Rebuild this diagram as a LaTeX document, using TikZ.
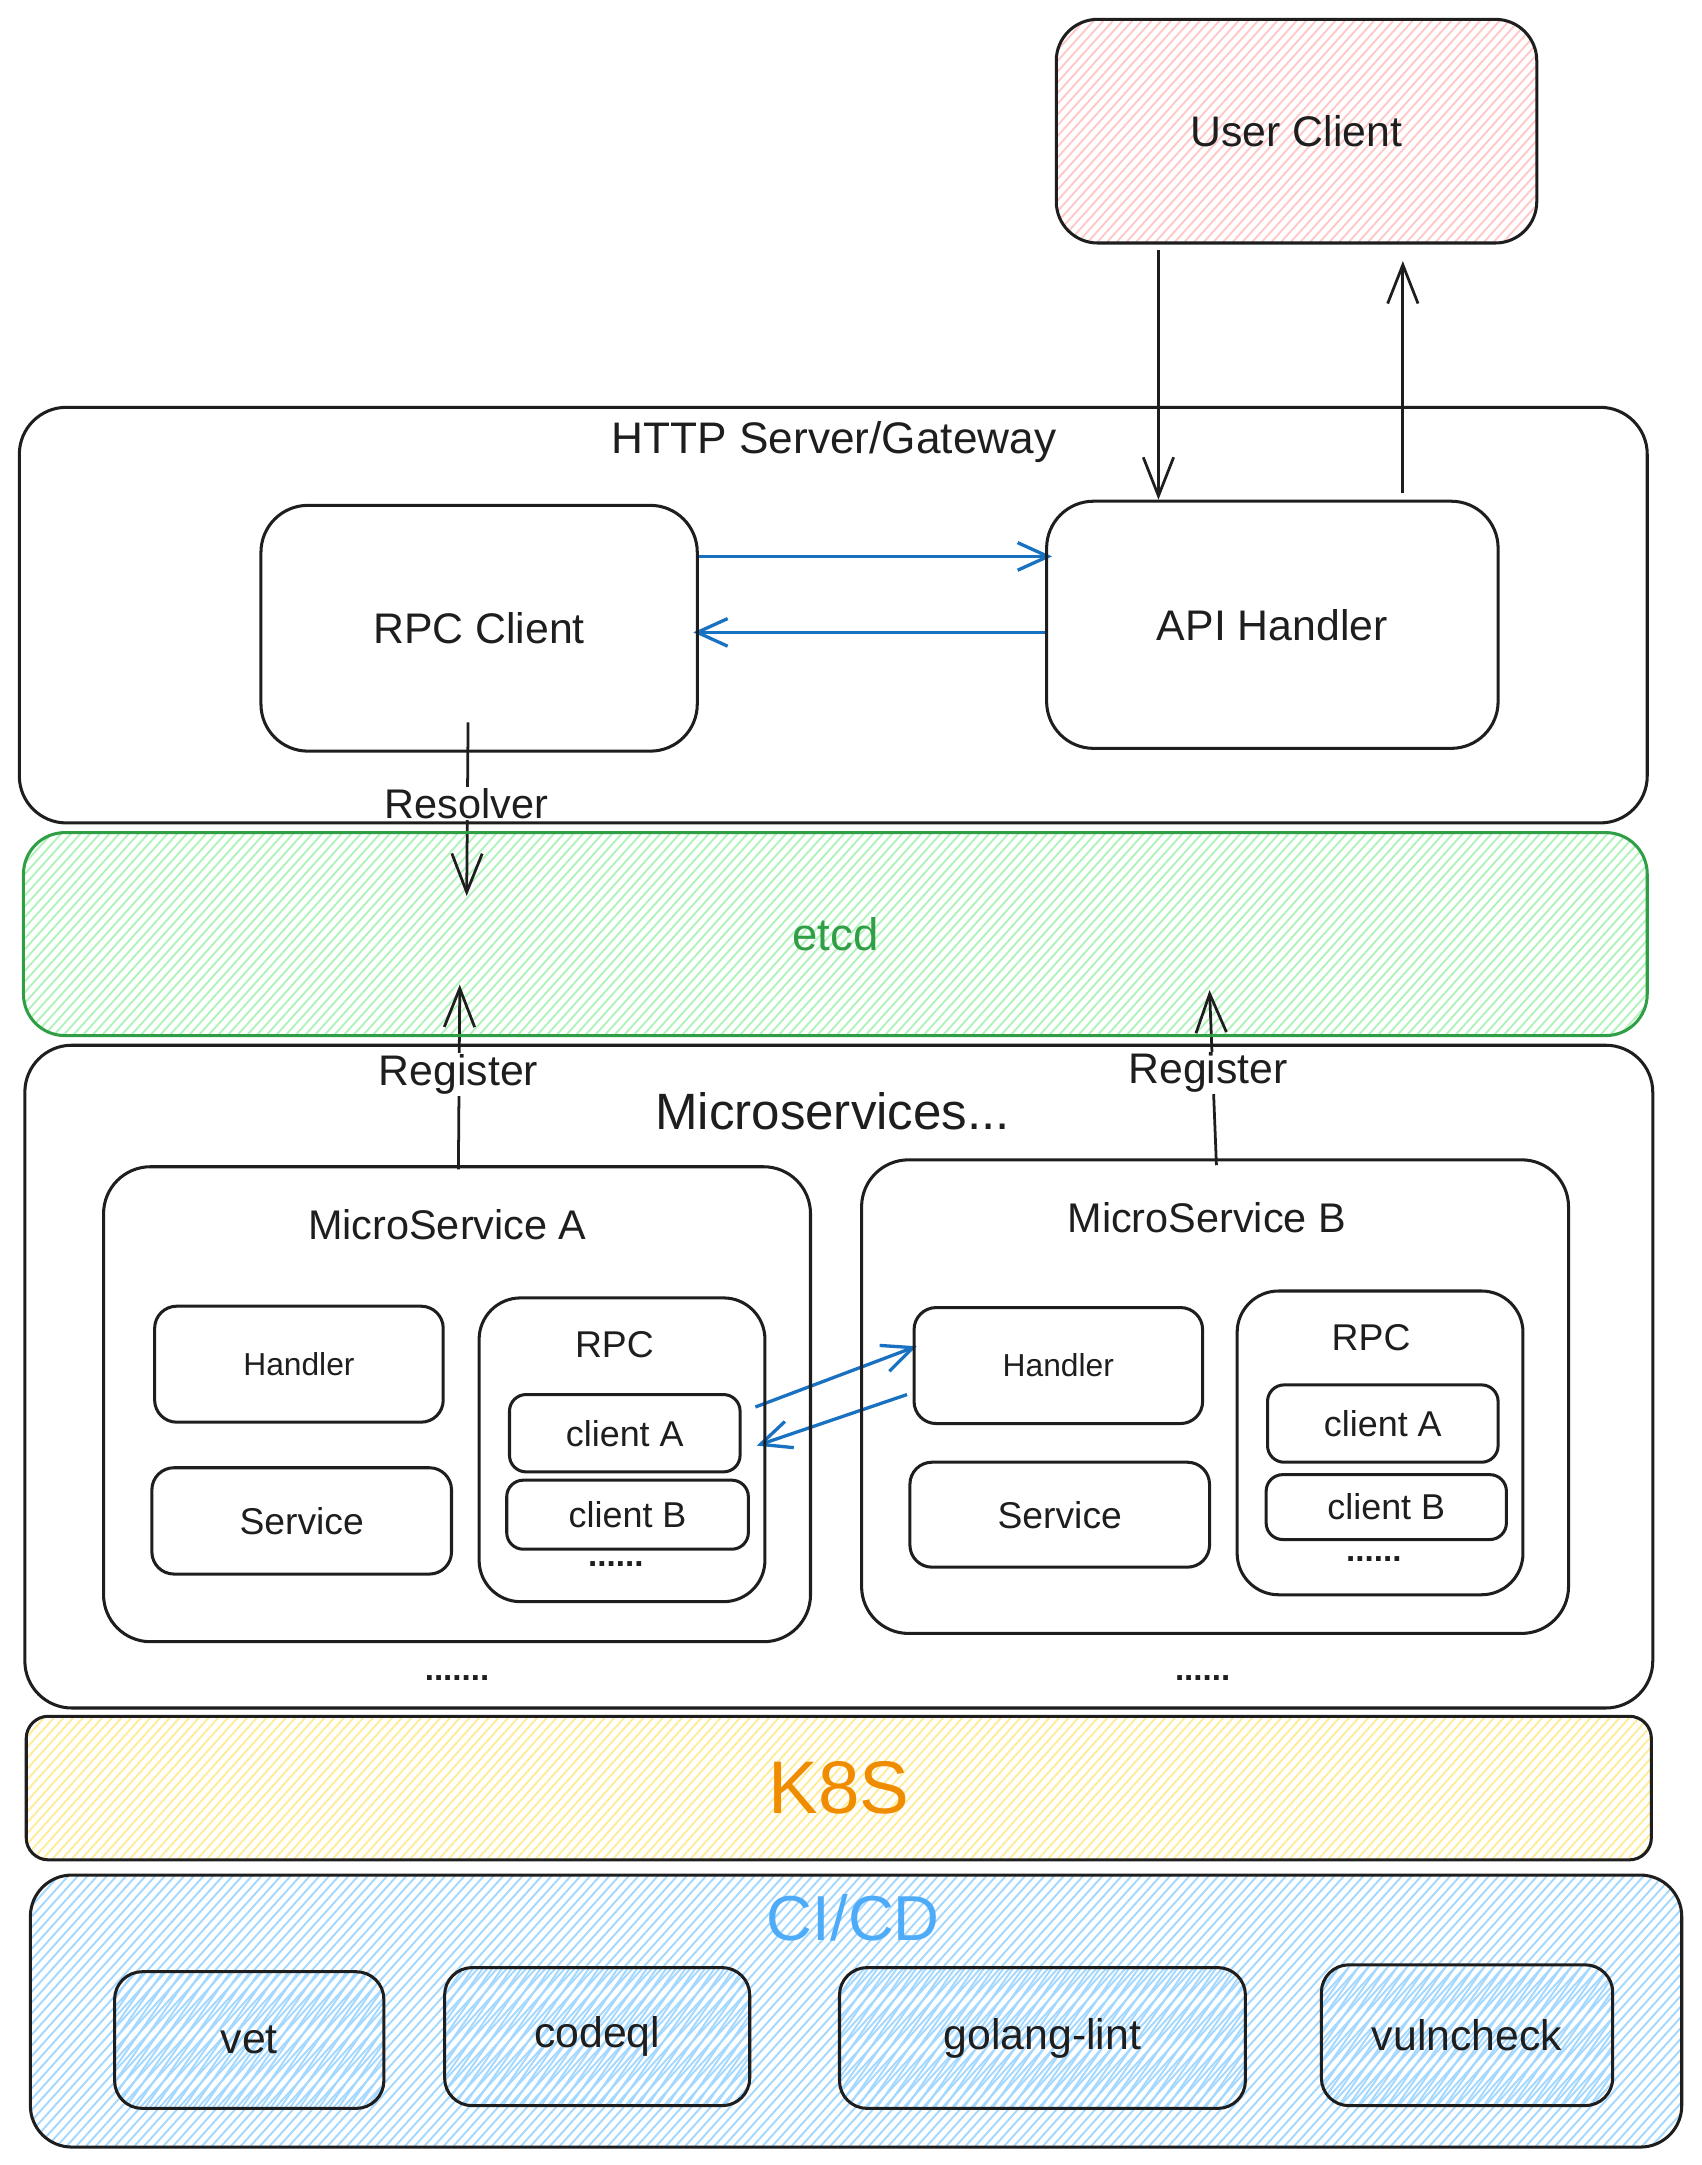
\documentclass[tikz,border=0pt]{standalone}
\usepackage{fontspec}
\setmainfont{Liberation Sans}
\usetikzlibrary{arrows.meta,backgrounds,calc}
\definecolor{ink}{HTML}{1E1E1E}
\definecolor{hred}{HTML}{FFC9C9}
\definecolor{hgreen}{HTML}{B2F2BB}
\definecolor{sgreen}{HTML}{2F9E44}
\definecolor{hyellow}{HTML}{FFEC99}
\definecolor{korange}{HTML}{F08C00}
\definecolor{hblue}{HTML}{A5D8FF}
\definecolor{cblue}{HTML}{4DABF7}
\definecolor{ablue}{HTML}{1971C2}
% #1..#4 box, #5 colour, #6 corner radius, #7 slope factor (dx per unit of height)
\newcommand\sketchhatch[7]{%
  \begin{scope}
    \clip[rounded corners=#6] (#1,#2) rectangle (#3,#4);
    \pgfmathsetmacro\hh{#4-#2}%
    \pgfmathsetmacro\hdx{#7*\hh}%
    \pgfmathsetmacro\hs{#1-\hdx}%
    \pgfmathsetmacro\hn{\hs+7}%
    \foreach \i in {\hs,\hn,...,#3} {\draw[#5,line width=0.7pt] (\i,#4) -- ++(\hdx,-\hh);}
  \end{scope}}
\tikzset{
  rbox/.style={draw=ink, line width=1.1pt, rounded corners=#1, inner sep=0pt, text=ink},
  rbox/.default=9pt,
  sz/.style 2 args={minimum width={#1*0.5pt}, minimum height={#2*0.5pt}},
  fnt/.style={font=\fontsize{#1}{#1}\selectfont},
  fnt/.default=15.5,
  lbl/.style={text=ink, inner sep=0.5pt},
  barr/.style={draw=ink, line width=1pt, -{Straight Barb[length=14pt,width=11pt,line width=1pt]}},
  blarr/.style={draw=ablue, line width=1.2pt, -{Straight Barb[length=11pt,width=10pt,line width=1.2pt]}},
}
\begin{document}
\begin{tikzpicture}[x=0.5pt,y=-0.5pt]
\useasboundingbox (0,0) rectangle (1232,1568);

% ---------- boxes ----------
\node[rbox=15pt, sz={348}{162}, fnt] (uc) at (939,95) {User Client};
\node[rbox=17pt, sz={1179}{301}] (http) at (603.5,445.5) {};
\node[lbl, fnt={16}] (httplbl) at (604,320) {HTTP Server/Gateway};
\node[rbox=17pt, sz={316}{178}, fnt] (rpc) at (347,455) {RPC Client};
\node[rbox=17pt, sz={327}{179}, fnt] (api) at (921.5,452.5) {API Handler};

\node[rbox=15pt, draw=sgreen, text=sgreen, sz={1176}{147}, fnt={16.5}] (etcd) at (605,676.5) {etcd};

\node[rbox=17pt, sz={1179}{480}] (ms) at (607.5,997) {};
\node[lbl, fnt={18.5}] (mslbl) at (603,805) {Microservices...};

% MicroService A
\node[rbox=17pt, sz={512}{344}] (msa) at (331,1017) {};
\node[lbl, fnt={15}] (msalbl) at (324,887) {MicroService A};
\node[rbox=8pt, sz={209}{84}, fnt={11.5}] (ha) at (216.5,988) {Handler};
\node[rbox=8pt, sz={217}{77}, fnt={13.5}] (sa) at (218.5,1101.5) {Service};
\node[rbox=15pt, sz={207}{220}] (rpca) at (450.5,1050) {};
\node[lbl, fnt={13.5}] (rpcalbl) at (445,974) {RPC};
\node[rbox=6pt, sz={167}{56}, fnt={13}] (caa) at (452.5,1038) {client A};
\node[rbox=6pt, sz={175}{50}, fnt={13}] (cba) at (454.5,1097) {client B};
\node[lbl, fnt={12}] (dotsa) at (446,1133) {\textbf{......}};

% MicroService B
\node[rbox=17pt, sz={512}{343}] (msb) at (880,1011.5) {};
\node[lbl, fnt={15}] (msblbl) at (874,882) {MicroService B};
\node[rbox=8pt, sz={209}{84}, fnt={11.5}] (hb) at (766.5,989) {Handler};
\node[rbox=8pt, sz={217}{76}, fnt={13.5}] (sb) at (767.5,1097) {Service};
\node[rbox=15pt, sz={207}{220}] (rpcb) at (999.5,1045) {};
\node[lbl, fnt={13.5}] (rpcblbl) at (993,969) {RPC};
\node[rbox=6pt, sz={167}{56}, fnt={13}] (cab) at (1001.5,1031) {client A};
\node[rbox=6pt, sz={174}{47}, fnt={13}] (cbb) at (1004,1091.5) {client B};
\node[lbl, fnt={12}] (dotsb) at (995,1129) {\textbf{......}};

\node[lbl, fnt={12}] (dotsms1) at (331,1215) {\textbf{.......}};
\node[lbl, fnt={12}] (dotsms2) at (871,1215) {\textbf{......}};

% K8S and CI/CD
\node[rbox=8pt, sz={1177}{104}, text=korange, fnt={27}] (k8s) at (607.5,1295) {K8S};
\node[rbox=15pt, sz={1196}{197}] (cicd) at (620,1456.5) {};
\node[lbl, text=cblue, fnt={23}] (cicdlbl) at (618,1389) {CI/CD};
\node[rbox=10pt, sz={195}{99}, fnt] (vet) at (180.5,1477.5) {vet};
\node[rbox=10pt, sz={221}{100}, fnt] (codeql) at (432.5,1475) {codeql};
\node[rbox=10pt, sz={294}{102}, fnt] (golint) at (755,1476) {golang-lint};
\node[rbox=10pt, sz={211}{102}, fnt] (vuln) at (1062.5,1474) {vulncheck};

% ---------- background: hachure, connectors, labels ----------
\begin{pgfonlayer}{background}
  \sketchhatch{765}{14}{1113}{176}{hred}{15pt}{0.9}
  \sketchhatch{17}{603}{1193}{750}{hgreen}{15pt}{0.9}
  \sketchhatch{19}{1243}{1196}{1347}{hyellow}{8pt}{0.9}
  \sketchhatch{22}{1358}{1218}{1555}{hblue}{15pt}{0.9}
  \sketchhatch{83}{1428}{278}{1527}{hblue}{10pt}{0.7}
  \sketchhatch{322}{1425}{543}{1525}{hblue}{10pt}{0.7}
  \sketchhatch{608}{1425}{902}{1527}{hblue}{10pt}{0.7}
  \sketchhatch{957}{1423}{1168}{1525}{hblue}{10pt}{0.7}

  % user client <-> API handler
  \coordinate (xdown) at (839,0);
  \coordinate (xup) at (1016,0);
  \draw[barr] ($(uc.south -| xdown)+(0,4)$) -- (api.north -| xdown);
  \draw[barr] ($(api.north -| xup)+(0,-5)$) -- ($(uc.south -| xup)+(0,12)$);

  % RPC client <-> API handler
  \coordinate (yreq) at (0,403);
  \coordinate (yres) at (0,458);
  \draw[blarr] (rpc.east |- yreq) -- ($(api.west |- yreq)+(5,0)$);
  \draw[blarr] (api.west |- yres) -- ($(rpc.east |- yres)+(-4,0)$);

  % Resolver
  \draw[barr] ($(rpc.south)+(-8,-22)$) -- ($(etcd.north)+(-267,47)$);
  \node[lbl, fill=white, fnt={15}] (reslbl) at (338,582) {Resolver};

  % Register
  \draw[barr] ($(msa.north)+(1,3)$) -- ($(etcd.south)+(-272,-38)$);
  \node[lbl, fill=white, fnt={15.5}] (reglblA) at (332,778) {Register};
  \draw[barr] ($(msb.north)+(1,5)$) -- ($(etcd.south)+(271,-34)$);
  \node[lbl, fill=white, fnt={15.5}] (reglblB) at (875,777) {Register};

  % client A <-> Handler B
  \draw[blarr] ($(caa.east)+(10,-19)$) -- ($(hb.west)+(3,-14)$);
  \draw[blarr] ($(hb.west)+(-4,21)$) -- ($(caa.east)+(11,9)$);
\end{pgfonlayer}
\end{tikzpicture}
\end{document}
